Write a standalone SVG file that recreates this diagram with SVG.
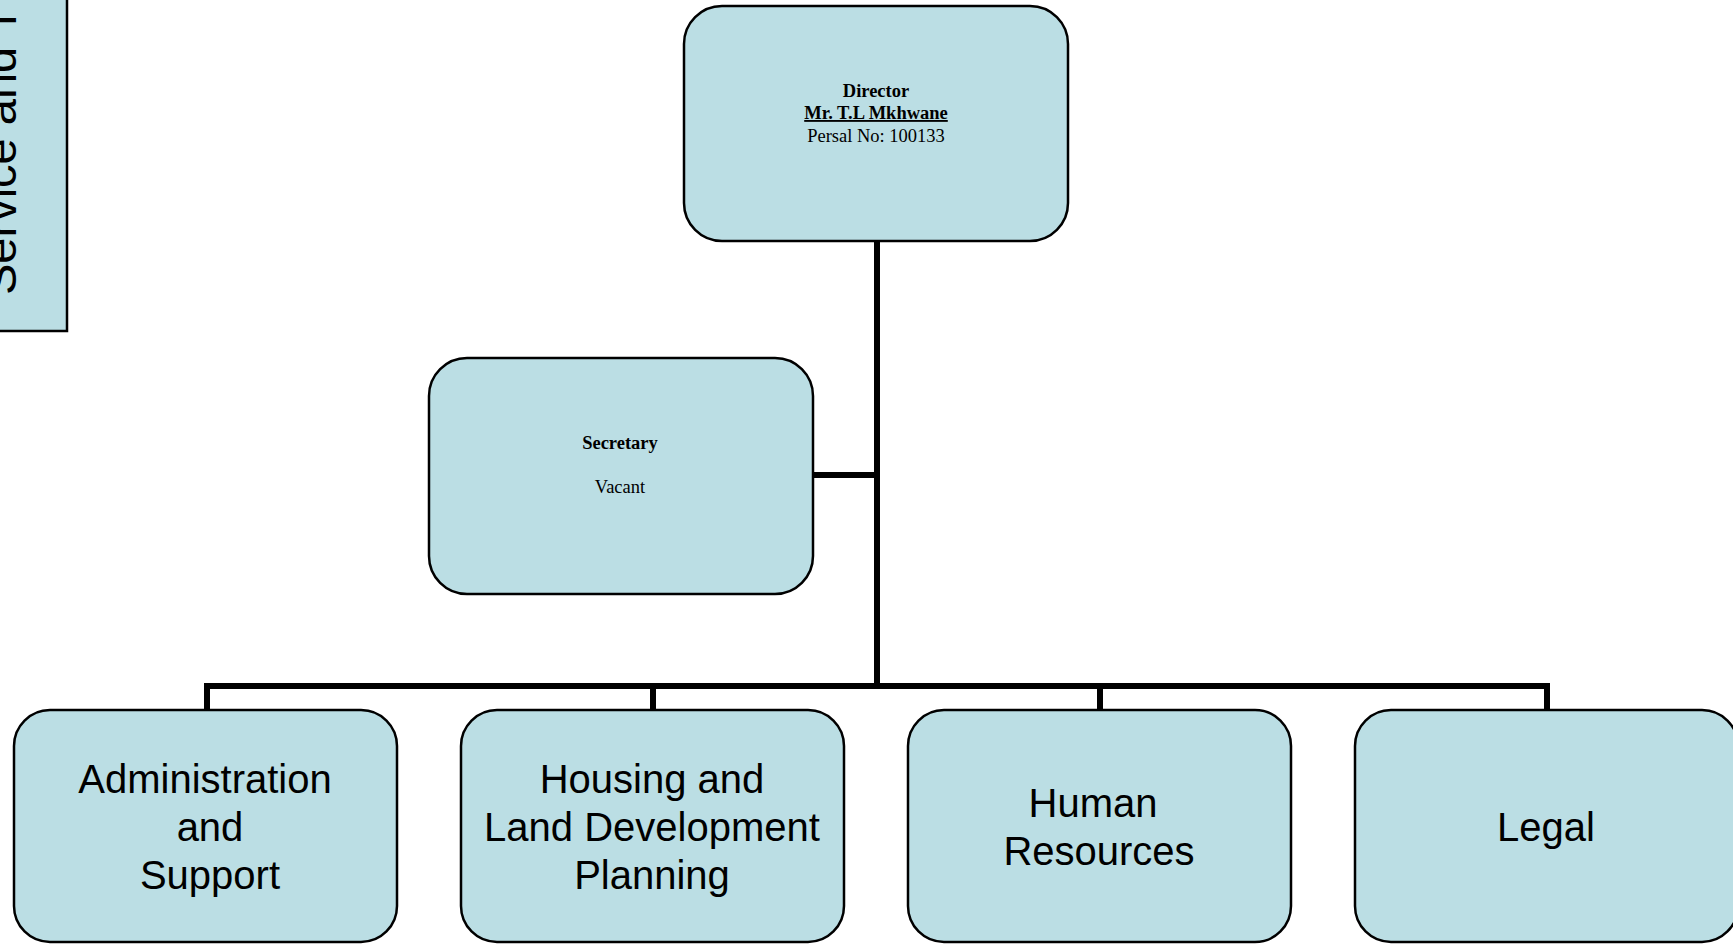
<svg xmlns="http://www.w3.org/2000/svg" width="1733" height="944" viewBox="0 0 1733 944">
<style>
.box{fill:#BBDEE4;stroke:#000;stroke-width:2.5}
.conn{fill:none;stroke:#000;stroke-width:6}
.t{font-family:"Liberation Serif","Times New Roman",serif;font-size:18.5px;fill:#000;text-anchor:middle}
.b{font-weight:bold}
.s{font-family:"Liberation Sans",Arial,sans-serif;font-size:40px;fill:#000;text-anchor:middle}
</style>
<rect width="1733" height="944" fill="#fff"/>
<g id="side">
<rect x="-10" y="-10" width="77" height="341" class="box"/>
<text class="s" style="font-size:47px;text-anchor:start" transform="translate(16,295) rotate(-90)">Service and T</text>
</g>
<g id="connectors">
<line class="conn" x1="877" y1="241" x2="877" y2="689"/>
<line class="conn" x1="813" y1="475" x2="877" y2="475"/>
<polyline class="conn" points="207,711 207,686 1547,686 1547,711"/>
<line class="conn" x1="653" y1="686" x2="653" y2="711"/>
<line class="conn" x1="1100" y1="686" x2="1100" y2="711"/>
</g>
<g id="director">
<rect x="684" y="6" width="384" height="235" rx="38" class="box"/>
<text class="t b" x="876" y="97">Director</text>
<text class="t b" x="876" y="119" text-decoration="underline">Mr. T.L Mkhwane</text>
<text class="t" x="876" y="142">Persal No: 100133</text>
</g>
<g id="secretary">
<rect x="429" y="358" width="384" height="236" rx="38" class="box"/>
<text class="t b" x="620" y="449">Secretary</text>
<text class="t" x="620" y="493">Vacant</text>
</g>
<g id="admin">
<rect x="14" y="710" width="383" height="232" rx="36" class="box"/>
<text class="s" x="205" y="793">Administration</text>
<text class="s" x="210" y="841">and</text>
<text class="s" x="210" y="889">Support</text>
</g>
<g id="housing">
<rect x="461" y="710" width="383" height="232" rx="36" class="box"/>
<text class="s" x="652" y="793">Housing and</text>
<text class="s" x="652" y="841">Land Development</text>
<text class="s" x="652" y="889">Planning</text>
</g>
<g id="hr">
<rect x="908" y="710" width="383" height="232" rx="36" class="box"/>
<text class="s" x="1093" y="817">Human</text>
<text class="s" x="1099" y="865">Resources</text>
</g>
<g id="legal">
<rect x="1355" y="710" width="383" height="232" rx="36" class="box"/>
<text class="s" x="1546" y="841">Legal</text>
</g>
</svg>
